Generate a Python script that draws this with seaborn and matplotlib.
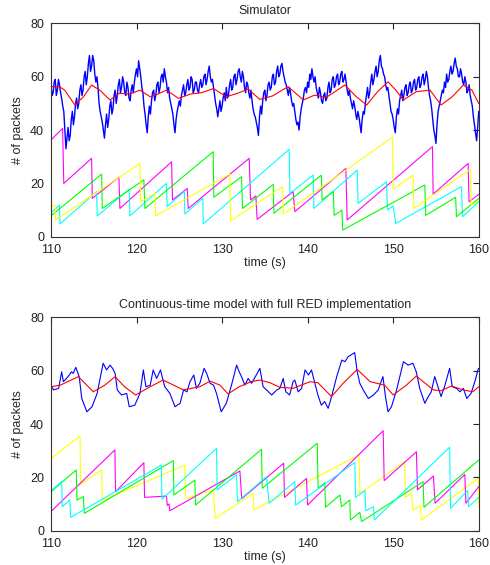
import numpy as np
import pandas as pd
import matplotlib
matplotlib.use("Agg")
import matplotlib.pyplot as plt
import seaborn as sns

# ---------------- data: top panel (Simulator) ----------------
t_sim = np.arange(110, 160.0001, 0.125)
queue_sim = [
    57, 53, 54, 58, 59, 53, 55, 59,
    57, 54, 52, 49, 47, 40, 33, 37,
    41, 36, 38, 44, 47, 42, 45, 50,
    52, 48, 50, 55, 57, 53, 55, 60,
    62, 57, 60, 65, 68, 62, 64, 68,
    66, 61, 58, 60, 56, 50, 47, 45,
    43, 40, 37, 42, 46, 41, 44, 49,
    51, 46, 48, 53, 55, 50, 53, 57,
    59, 54, 56, 60, 58, 54, 53, 58,
    56, 52, 51, 55, 57, 54, 58, 61,
    63, 60, 66, 63, 60, 56, 54, 49,
    46, 42, 39, 45, 49, 46, 51, 54,
    55, 51, 53, 57, 58, 54, 56, 60,
    61, 58, 63, 60, 58, 54, 56, 52,
    50, 48, 46, 42, 39, 44, 47, 49,
    51, 49, 53, 55, 57, 53, 54, 57,
    59, 55, 56, 60, 59, 54, 55, 58,
    58, 55, 54, 57, 59, 56, 57, 60,
    61, 57, 59, 62, 64, 60, 58, 59,
    56, 53, 50, 48, 45, 48, 51, 47,
    49, 52, 54, 51, 56, 52, 53, 57,
    59, 55, 56, 60, 61, 57, 59, 62,
    63, 60, 58, 62, 60, 56, 54, 58,
    57, 54, 52, 55, 51, 48, 46, 45,
    43, 41, 38, 45, 49, 46, 51, 54,
    55, 51, 53, 57, 58, 55, 56, 60,
    61, 57, 58, 62, 64, 60, 61, 64,
    65, 62, 60, 58, 57, 55, 53, 56,
    54, 51, 49, 50, 47, 44, 42, 43,
    40, 45, 48, 50, 52, 55, 56, 54,
    58, 56, 61, 59, 63, 60, 58, 60,
    56, 54, 52, 56, 54, 51, 50, 53,
    54, 51, 52, 56, 58, 54, 55, 59,
    60, 56, 57, 60, 61, 57, 58, 61,
    62, 58, 59, 61, 58, 55, 53, 55,
    52, 50, 48, 51, 49, 46, 44, 47,
    45, 42, 39, 44, 47, 46, 50, 53,
    56, 52, 54, 58, 61, 57, 59, 62,
    64, 60, 62, 66, 68, 64, 63, 61,
    60, 57, 55, 56, 53, 50, 47, 46,
    44, 41, 39, 45, 48, 46, 51, 53,
    55, 51, 53, 56, 57, 53, 54, 57,
    58, 54, 55, 58, 59, 55, 56, 59,
    60, 56, 57, 60, 61, 57, 59, 62,
    60, 56, 53, 51, 48, 44, 40, 38,
    35, 42, 47, 49, 51, 53, 55, 54,
    58, 56, 61, 58, 59, 62, 64, 61,
    62, 65, 67, 64, 63, 60, 60, 63,
    61, 58, 57, 60, 58, 54, 55, 57,
    53, 51, 49, 45, 42, 39, 36, 41,
    47,
]
avg_sim_t = [110.0, 111.0, 111.6, 112.8, 113.8, 114.75, 115.7, 116.9, 118.0, 119.2, 120.4,
             121.6, 122.5, 123.5, 124.9, 126.3, 127.6, 129.0, 130.5, 131.8, 133.05, 134.4,
             135.9, 137.7, 139.5, 140.8, 142.2, 144.35, 145.7, 146.9, 148.2, 149.4, 150.3,
             151.2, 152.7, 154.3, 155.6, 156.9, 158.2, 159.2, 160.0]
avg_sim_v = [56.3, 56.3, 55.0, 49.4, 52.5, 56.9, 55.0, 51.3, 53.8, 53.5, 55.0,
             52.5, 53.5, 55.0, 51.9, 53.5, 54.0, 55.6, 52.5, 53.8, 55.4, 51.5,
             52.8, 56.3, 51.3, 53.1, 52.3, 56.9, 52.5, 49.4, 54.5, 58.1, 55.0,
             51.3, 54.4, 55.0, 49.4, 52.5, 56.9, 55.0, 50.0]

mag_sim_t = [110.0, 111.36, 111.5, 114.75, 114.83, 117.94, 118.06, 124.1, 124.21, 125.93, 126.04,
             133.17, 133.33, 133.95, 134.1, 138.3, 138.51, 144.47, 144.62, 154.59, 154.67,
             158.76, 158.87, 160.0]
mag_sim_v = [36.3, 40.6, 20.0, 29.4, 14.4, 22.3, 10.6, 28.1, 13.8, 18.1, 10.6,
             29.4, 13.8, 15.3, 6.5, 16.9, 9.4, 25.6, 6.3, 33.8, 16.0,
             27.5, 13.1, 15.9]
cyan_sim_t = [110.0, 111.0, 111.05, 115.33, 115.41, 119.15, 119.23, 123.5, 123.58, 125.6, 125.65,
              127.75, 127.8, 137.85, 137.93, 140.65, 140.73, 145.79, 145.9, 149.22, 149.33,
              150.0, 150.3, 157.98, 158.1, 160.0]
cyan_sim_v = [9.0, 11.8, 4.8, 16.9, 7.8, 17.8, 7.8, 20.0, 11.3, 17.0, 8.5,
              14.5, 4.8, 32.8, 16.3, 23.1, 10.6, 25.0, 12.5, 20.6, 10.0,
              11.5, 5.0, 18.8, 7.5, 13.1]
green_sim_t = [110.0, 115.92, 116.0, 120.86, 120.98, 128.96, 129.04, 132.27, 132.39, 135.98, 136.06,
               141.6, 141.7, 143.0, 143.1, 144.0, 144.1, 153.7, 153.8, 157.3, 157.4, 160.0]
green_sim_v = [7.8, 23.5, 10.6, 21.3, 10.6, 31.9, 14.8, 22.5, 10.6, 19.6, 8.8,
               23.1, 13.8, 17.0, 8.0, 10.0, 2.5, 19.4, 8.0, 14.8, 7.5, 14.4]
yel_sim_t = [110.0, 110.45, 110.55, 120.4, 120.48, 122.15, 122.23, 130.9, 131.0, 137.07, 137.15,
             149.92, 150.0, 152.33, 152.41, 159.03, 159.1, 160.0]
yel_sim_v = [11.0, 12.0, 6.3, 27.5, 13.1, 16.3, 7.8, 23.5, 6.0, 18.8, 8.5,
             37.3, 17.8, 23.1, 10.6, 25.3, 11.9, 13.5]

# ---------------- data: bottom panel (model) ----------------
q_mod_t = [110.0, 110.3, 110.9, 111.25, 111.45, 112.0, 112.4, 112.6, 112.9, 113.3, 113.6, 114.2,
           114.8, 115.4, 116.1, 116.5, 116.9, 117.2, 117.5, 117.75, 118.25, 118.85, 119.15, 119.8,
           120.4, 120.8, 121.1, 121.6, 121.95, 122.35, 122.8, 123.3, 123.9, 124.5, 125.1, 125.5,
           125.9, 126.25, 126.7, 127.0, 127.4, 127.9, 128.2, 128.6, 129.0, 129.35, 129.9, 130.5,
           131.1, 131.7, 132.0, 132.27, 132.66, 133.05, 133.45, 134.0, 134.42, 134.8, 135.2,
           135.8, 136.4, 136.75, 137.15, 137.45, 137.9, 138.3, 138.5, 138.9, 139.3, 139.7, 140.1,
           140.45, 140.8, 141.2, 141.6, 142.0, 142.4, 142.8, 143.4, 144.0, 144.35, 144.75, 145.5,
           145.8, 146.1, 146.5, 147.1, 147.7, 148.25, 148.8, 149.1, 149.4, 149.8, 150.4, 151.2,
           151.75, 152.3, 152.7, 153.1, 153.7, 154.1, 154.45, 154.85, 155.05, 155.6, 156.0,
           156.6, 156.9, 157.4, 157.8, 158.2, 158.6, 159.1, 159.6, 159.9, 160.0]
q_mod_v = [54.6, 52.8, 53.4, 59.6, 55.9, 57.8, 59.6, 59.0, 61.3, 57.8, 49.6, 44.6,
           46.5, 51.5, 62.8, 60.3, 62.1, 60.9, 59.0, 52.8, 50.9, 51.5, 46.5, 47.1,
           51.5, 60.3, 54.0, 54.6, 60.3, 57.1, 60.3, 54.0, 51.5, 46.5, 47.8, 52.8,
           52.1, 55.9, 58.4, 53.4, 55.3, 60.9, 59.0, 55.3, 54.6, 51.5, 44.6, 47.8,
           54.6, 62.1, 59.6, 57.8, 54.6, 57.1, 55.3, 58.4, 60.9, 54.0, 52.8,
           50.9, 52.8, 53.4, 57.1, 52.1, 50.9, 55.9, 56.5, 52.1, 53.4, 60.3, 58.4,
           60.3, 55.9, 50.9, 47.1, 48.4, 45.9, 50.3, 57.8, 64.0, 63.4, 65.3, 66.8,
           59.6, 55.3, 52.8, 49.6, 50.9, 52.8, 57.8, 50.3, 44.6, 46.5, 52.8, 63.4,
           62.1, 62.8, 59.6, 53.4, 47.8, 50.3, 52.1, 57.8, 55.9, 50.3, 54.0,
           60.9, 54.0, 53.4, 52.1, 53.4, 49.6, 51.5, 56.5, 60.3, 60.9]
avg_mod_t = [110.0, 111.1, 113.2, 114.95, 116.3, 117.5, 118.6, 119.9, 121.6, 123.1, 125.5,
             127.4, 128.6, 129.75, 130.7, 132.0, 133.4, 134.42, 135.6, 136.75, 138.3, 140.3,
             141.2, 142.8, 144.15, 145.8, 147.3, 149.0, 150.0, 151.55, 152.7, 154.7, 155.6,
             156.8, 158.2, 159.3, 160.0]
avg_mod_v = [54.0, 54.6, 57.8, 52.1, 54.6, 57.8, 54.0, 50.9, 54.0, 56.5, 52.8,
             54.0, 56.1, 54.6, 51.3, 54.0, 55.9, 56.5, 55.5, 53.8, 53.4, 55.9,
             55.5, 50.3, 55.3, 60.5, 55.9, 54.6, 50.9, 54.6, 58.0, 52.8, 52.5,
             54.3, 52.8, 52.1, 54.0]

mag_mod_t = [110.0, 110.07, 117.47, 117.55, 120.86, 120.94, 123.5, 123.6, 123.8, 123.9, 132.08,
             132.3, 137.2, 137.3, 139.87, 139.99, 148.83, 148.95, 152.72, 152.84, 154.7, 154.9,
             158.37, 158.5, 160.0]
mag_mod_v = [9.9, 7.4, 30.3, 14.6, 25.5, 12.5, 13.0, 9.5, 10.0, 7.5, 22.4,
             12.0, 25.3, 12.5, 19.6, 9.6, 37.5, 18.8, 29.6, 15.3, 20.5, 10.3,
             21.1, 10.3, 16.5]
cyan_mod_t = [110.0, 111.25, 111.33, 112.2, 112.3, 122.9, 122.98, 129.35, 129.43, 131.7, 131.8,
              135.2, 135.5, 138.5, 138.6, 145.52, 145.6, 146.7, 146.8, 147.7, 147.8, 156.6,
              156.7, 158.7, 158.8, 160.0]
cyan_mod_v = [15.0, 18.4, 9.0, 11.5, 5.0, 24.6, 11.8, 30.9, 15.3, 21.0, 10.9,
              20.3, 10.3, 18.4, 9.6, 25.6, 12.5, 15.0, 7.5, 9.0, 4.0, 31.3,
              8.4, 15.0, 9.0, 12.5]
green_mod_t = [110.0, 112.96, 113.04, 113.79, 113.9, 124.3, 124.37, 126.82, 126.9, 134.61, 134.7,
               141.12, 141.23, 142.0, 142.1, 143.77, 143.96, 144.93, 145.0, 146.1, 146.3, 153.5,
               153.6, 160.0]
green_mod_v = [14.6, 22.8, 11.5, 12.8, 6.5, 26.3, 13.4, 19.0, 9.6, 30.5, 15.9,
               32.8, 15.9, 18.0, 8.8, 13.4, 9.0, 11.5, 4.0, 6.9, 3.4, 18.4,
               8.8, 26.5]
yel_mod_t = [110.0, 113.39, 113.47, 115.92, 116.0, 125.65, 125.73, 128.96, 129.2, 133.64, 133.7,
             146.02, 146.1, 151.36, 151.44, 152.14, 152.33, 153.2, 153.3, 159.92, 160.0]
yel_mod_v = [27.1, 35.5, 17.5, 22.8, 11.3, 24.6, 12.1, 15.3, 4.6, 14.0, 7.8,
             28.4, 14.0, 25.9, 12.5, 14.0, 7.8, 9.5, 4.0, 19.6, 9.6]

titles = ["Simulator", "Continuous-time model with full RED implementation"]
x_ticks = [110, 120, 130, 140, 150, 160]
y_ticks = [0, 20, 40, 60, 80]

# ---------------- drawing ----------------
sns.set_theme(style="white")
plt.rcParams["font.family"] = ["Liberation Sans", "DejaVu Sans"]
plt.rcParams["font.size"] = 9

fig = plt.figure(figsize=(4.9, 5.65), dpi=100)
ax1 = fig.add_axes([0.104, 0.581, 0.873, 0.3775])
ax2 = fig.add_axes([0.104, 0.0607, 0.873, 0.3775])

def draw(ax, t, v, color, lw=0.8):
    df = pd.DataFrame({"t": t, "v": v})
    sns.lineplot(data=df, x="t", y="v", ax=ax, color=color, lw=lw,
                 sort=False, estimator=None)

panels = [
    (ax1, [(t_sim, queue_sim, "#0000ff", 1.0), (avg_sim_t, avg_sim_v, "#ff0000", 0.8),
           (mag_sim_t, mag_sim_v, "#ff00ff", 0.8), (cyan_sim_t, cyan_sim_v, "#00ffff", 0.8),
           (green_sim_t, green_sim_v, "#00ff00", 0.8), (yel_sim_t, yel_sim_v, "#ffff00", 0.8)]),
    (ax2, [(q_mod_t, q_mod_v, "#0000ff", 0.8), (avg_mod_t, avg_mod_v, "#ff0000", 0.8),
           (yel_mod_t, yel_mod_v, "#ffff00", 0.8), (mag_mod_t, mag_mod_v, "#ff00ff", 0.8),
           (green_mod_t, green_mod_v, "#00ff00", 0.8), (cyan_mod_t, cyan_mod_v, "#00ffff", 0.8)]),
]

for i, (ax, series) in enumerate(panels):
    for t, v, c, lw in series:
        draw(ax, t, v, c, lw)
    ax.set_xlim(110, 160)
    ax.set_ylim(0, 80)
    ax.set_xticks(x_ticks)
    ax.set_yticks(y_ticks)
    ax.set_xticklabels([str(x) for x in x_ticks], fontsize=9)
    ax.set_yticklabels([str(y) for y in y_ticks], fontsize=9)
    ax.set_xlabel("time (s)", fontsize=9, labelpad=0.5)
    ax.set_ylabel("# of packets", fontsize=9, labelpad=4)
    ax.set_title(titles[i], fontsize=9, pad=7)
    ax.tick_params(direction="in", length=4, width=0.8, top=True, right=True,
                   colors="#222222")
    ax.tick_params(axis="x", pad=5.5)
    ax.tick_params(axis="y", pad=5)
    for sp in ax.spines.values():
        sp.set_visible(True)
        sp.set_color("#333333")
        sp.set_linewidth(0.8)

fig.savefig("out.png", dpi=100)
